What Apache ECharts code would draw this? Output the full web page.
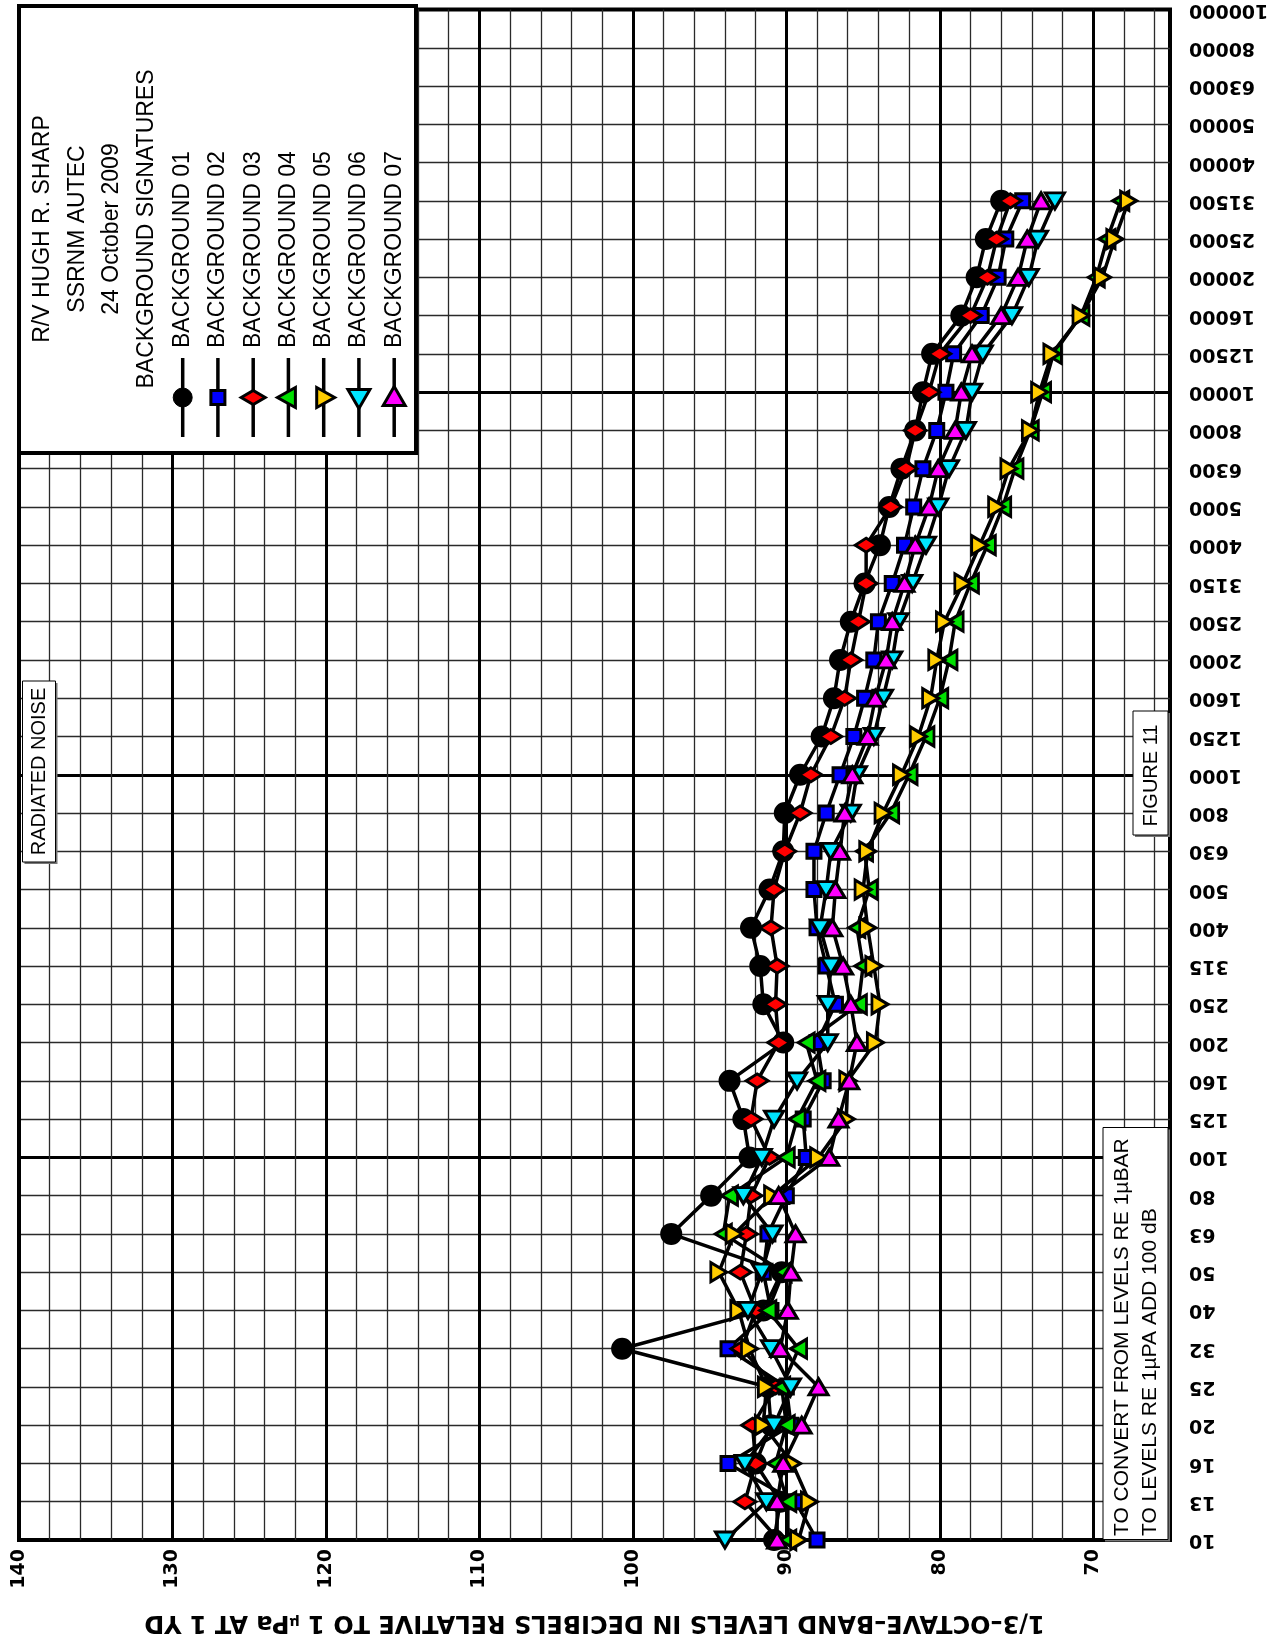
<!DOCTYPE html>
<html><head><meta charset="utf-8">
<script src="https://cdn.jsdelivr.net/npm/echarts@6/dist/echarts.min.js"></script>
<style>html,body{margin:0;padding:0;background:#fff}#c{width:1280px;height:1639px}</style>
</head><body><div id="c"></div>
<script>
// 1/3-octave band centre frequencies (tick labels, bottom to top)
const freqLabels = ['10','13','16','20','25','32','40','50','63','80',
  '100','125','160','200','250','315','400','500','630','800',
  '1000','1250','1600','2000','2500','3150','4000','5000','6300','8000',
  '10000','12500','16000','20000','25000','31500','40000','50000','63000','80000','100000'];
const dbTicks = [140,130,120,110,100,90,80,70];
const seriesNames = ['BACKGROUND 01','BACKGROUND 02','BACKGROUND 03','BACKGROUND 04','BACKGROUND 05','BACKGROUND 06','BACKGROUND 07'];

// levels in dB, bands 10 Hz .. 31500 Hz
const bg01 = [90.8,90.4,92.0,91.0,91.2,100.7,91.5,90.3,97.5,94.9,92.4,92.8,93.7,90.2,91.5,91.7,92.3,91.1,90.2,90.1,89.1,87.7,86.9,86.5,85.8,84.9,83.9,83.3,82.5,81.6,81.1,80.5,78.6,77.6,77.0,76.0];
const bg02 = [88.0,89.4,93.8,89.7,90.0,93.8,91.0,91.5,91.2,90.0,88.7,88.9,87.6,88.0,86.8,87.4,88.0,88.2,88.2,87.4,86.5,85.6,84.9,84.3,84.0,83.1,82.3,81.7,81.1,80.2,79.6,79.1,77.3,76.2,75.7,74.6];
const bg03 = [90.5,92.7,92.0,92.2,90.7,92.9,92.0,93.0,92.6,92.3,91.1,92.3,91.9,90.5,90.7,90.6,91.0,90.8,90.1,89.1,88.4,87.1,86.2,85.8,85.3,84.8,84.8,83.2,82.2,81.6,80.7,80.0,78.0,76.9,76.3,75.4];
const bg04 = [89.9,89.9,90.7,90.0,90.3,89.2,91.2,90.2,94.1,93.7,90.0,89.3,88.0,88.7,85.3,85.0,85.4,84.6,84.9,83.2,82.0,80.9,80.0,79.4,79.0,78.0,76.9,75.9,75.1,74.1,73.3,72.6,70.8,69.8,69.1,68.2];
const bg05 = [89.2,88.5,89.6,91.5,91.3,92.4,93.1,94.4,93.4,90.9,87.9,86.1,86.0,84.2,83.9,84.3,84.7,85.0,84.7,83.7,82.5,81.4,80.6,80.2,79.7,78.5,77.4,76.3,75.5,74.1,73.5,72.7,70.8,69.4,68.6,67.7];
const bg06 = [94.0,91.3,92.7,90.8,89.7,91.0,92.5,91.6,90.9,92.8,91.6,90.8,89.3,87.3,87.3,87.1,87.8,87.4,87.1,85.8,85.4,84.3,83.7,83.1,82.7,81.8,80.9,80.1,79.4,78.3,77.9,77.2,75.3,74.2,73.6,72.5];
const bg07 = [90.6,90.6,90.2,89.0,87.9,90.4,89.9,89.7,89.4,90.5,87.2,86.6,85.9,85.4,85.8,86.3,87.0,86.8,86.5,86.2,85.7,84.7,84.2,83.5,83.1,82.3,81.6,80.7,80.1,79.0,78.6,77.9,76.0,74.9,74.3,73.4];

const allData = [bg01,bg02,bg03,bg04,bg05,bg06,bg07];
const styles = [
  {symbol:'circle', size:19, rot:0, color:'#000000'},
  {symbol:'rect', size:14, rot:0, color:'#0000ff'},
  {symbol:'diamond', size:[22,14], rot:0, color:'#ff0000'},
  {symbol:'triangle', size:[19,16], rot:90, color:'#00e000'},
  {symbol:'triangle', size:[19,16], rot:-90, color:'#ffcc00'},
  {symbol:'triangle', size:[19,16], rot:180, color:'#00e5ff'},
  {symbol:'triangle', size:[19,16], rot:0, color:'#ff00ff'}
];

const series = allData.map((arr, k) => ({
  name: seriesNames[k], type:'line', xAxisIndex:1, yAxisIndex:0,
  data: arr.map((v,i)=>[v, freqLabels[i]]),
  symbol: styles[k].symbol, symbolSize: styles[k].size, symbolRotate: styles[k].rot,
  showAllSymbol: true,
  lineStyle:{color:'#000', width:3.5},
  itemStyle:{color: styles[k].color, borderColor:'#000', borderWidth:3},
  emphasis:{disabled:true}, z: 3 + k
}));

// ---- annotation graphics (legend box and notes) ----
const F = 'Liberation Sans, Arial, sans-serif';
const g = [];
g.push({type:'rect', z:100, shape:{x:19, y:6, width:397, height:447}, style:{fill:'#fff', stroke:'#000', lineWidth:4}});
const titles = ['R/V HUGH R. SHARP','SSRNM AUTEC','24 October 2009','BACKGROUND SIGNATURES'];
const tx = [43, 77.5, 112, 146.5];
titles.forEach((t,i)=>g.push({type:'text', z:101, x:tx[i], y:229, rotation:Math.PI/2,
  style:{text:t, font:'23px '+F, fill:'#000', textAlign:'center', textVerticalAlign:'middle'}}));
const ex = [182.7, 217.9, 253.2, 288.4, 323.7, 358.9, 394.2];
function keyShape(k, cx, cy){
  const c = styles[k].color, st = {fill:c, stroke:'#000', lineWidth:3};
  if(k===0) return {type:'circle', z:103, shape:{cx:cx, cy:cy, r:9.5}, style:{fill:'#000', stroke:'#000'}};
  if(k===1) return {type:'rect', z:103, shape:{x:cx-7, y:cy-7, width:14, height:14}, style:st};
  let pts;
  if(k===2) pts=[[cx-12,cy],[cx,cy-7],[cx+12,cy],[cx,cy+7]];
  if(k===3) pts=[[cx-11,cy],[cx+7,cy-10],[cx+7,cy+10]];
  if(k===4) pts=[[cx+11,cy],[cx-7,cy-10],[cx-7,cy+10]];
  if(k===5) pts=[[cx-11,cy-8],[cx+11,cy-8],[cx,cy+11]];
  if(k===6) pts=[[cx-11,cy+8],[cx+11,cy+8],[cx,cy-11]];
  return {type:'polygon', z:103, shape:{points:pts}, style:st};
}
seriesNames.forEach((n,k)=>{
  g.push({type:'text', z:101, x:ex[k], y:348, rotation:Math.PI/2,
    style:{text:n, font:'23px '+F, fill:'#000', textAlign:'left', textVerticalAlign:'middle'}});
  g.push({type:'line', z:102, shape:{x1:ex[k], y1:358, x2:ex[k], y2:437}, style:{stroke:'#000', lineWidth:3.5}});
  g.push(keyShape(k, ex[k], 397.5));
});
function noteBox(x,y,w,h){
  g.push({type:'rect', z:100, shape:{x:x+2, y:y+2, width:w, height:h}, style:{fill:'#777', stroke:null}});
  g.push({type:'rect', z:100, shape:{x:x, y:y, width:w, height:h}, style:{fill:'#fff', stroke:'#000', lineWidth:1}});
}
noteBox(22.5, 681, 33, 181);
g.push({type:'text', z:101, x:39, y:771.5, rotation:Math.PI/2, style:{text:'RADIATED NOISE', font:'20px '+F, fill:'#000', textAlign:'center', textVerticalAlign:'middle'}});
noteBox(1133, 711, 35, 124);
g.push({type:'text', z:101, x:1151.5, y:775.5, rotation:Math.PI/2, style:{text:'FIGURE 11', font:'20px '+F, fill:'#000', textAlign:'center', textVerticalAlign:'middle'}});
noteBox(1103, 1127.5, 65, 412);
g.push({type:'text', z:101, x:1122, y:1536, rotation:Math.PI/2, style:{text:'TO CONVERT FROM LEVELS RE 1\u00b5BAR', font:'21px '+F, fill:'#000', textAlign:'left', textVerticalAlign:'middle'}});
g.push({type:'text', z:101, x:1150, y:1536, rotation:Math.PI/2, style:{text:'TO LEVELS RE 1\u00b5PA ADD 100 dB', font:'21px '+F, fill:'#000', textAlign:'left', textVerticalAlign:'middle'}});

const chart = echarts.init(document.getElementById('c'), null, {renderer:'canvas'});
chart.setOption({
  animation:false,
  backgroundColor:'#fff',
  grid:{left:19, right:110, top:6, bottom:98, show:true, borderColor:'#000', borderWidth:4, backgroundColor:'#fff', z:0},
  xAxis:[
    {type:'value', min:65, max:140, interval:1, inverse:true, position:'top',
     axisLine:{show:false}, axisTick:{show:false}, axisLabel:{show:false},
     splitLine:{show:true, lineStyle:{color:['rgba(0,0,0,0)','#2a2a2a'], width:1.3}}},
    {type:'value', min:65, max:140, interval:5, inverse:true, position:'bottom',
     axisLine:{show:false}, axisTick:{show:false},
     axisLabel:{show:true, rotate:90, margin:9, fontFamily:'DejaVu Sans', fontWeight:'bold', fontSize:19, color:'#000',
       formatter:(v)=> dbTicks.indexOf(v) >= 0 ? String(v) : ''},
     splitLine:{show:true, lineStyle:{color:['rgba(0,0,0,0)','#000'], width:3}},
     name:'1/3\u2013OCTAVE\u2013BAND LEVELS IN DECIBELS RELATIVE TO 1 {mu|\u00b5}Pa AT 1 YD',
     nameLocation:'middle', nameGap:82, nameRotate:180,
     nameTextStyle:{fontFamily:'DejaVu Sans', fontWeight:'bold', fontSize:24, color:'#000', align:'center', verticalAlign:'middle',
       rich:{mu:{fontFamily:'DejaVu Sans', fontWeight:'bold', fontSize:14, color:'#000'}}}}
  ],
  yAxis:[
    {type:'category', data:freqLabels, boundaryGap:false, position:'right',
     axisLine:{show:false}, axisTick:{show:false, interval:0},
     axisLabel:{show:true, interval:0, rotate:180, margin:19, align:'right', verticalAlign:'middle',
       fontFamily:'DejaVu Sans', fontWeight:'bold', fontSize:19, color:'#000'},
     splitLine:{show:true, interval:0, lineStyle:{color:'#2a2a2a', width:1.3}}},
    {type:'category', data:freqLabels, boundaryGap:false, position:'left',
     axisLine:{show:false}, axisTick:{show:false}, axisLabel:{show:false},
     splitLine:{show:true, interval:(i)=> i % 10 === 0, lineStyle:{color:'#000', width:3}}}
  ],
  series: series,
  graphic: g
});
</script>
</body></html>
